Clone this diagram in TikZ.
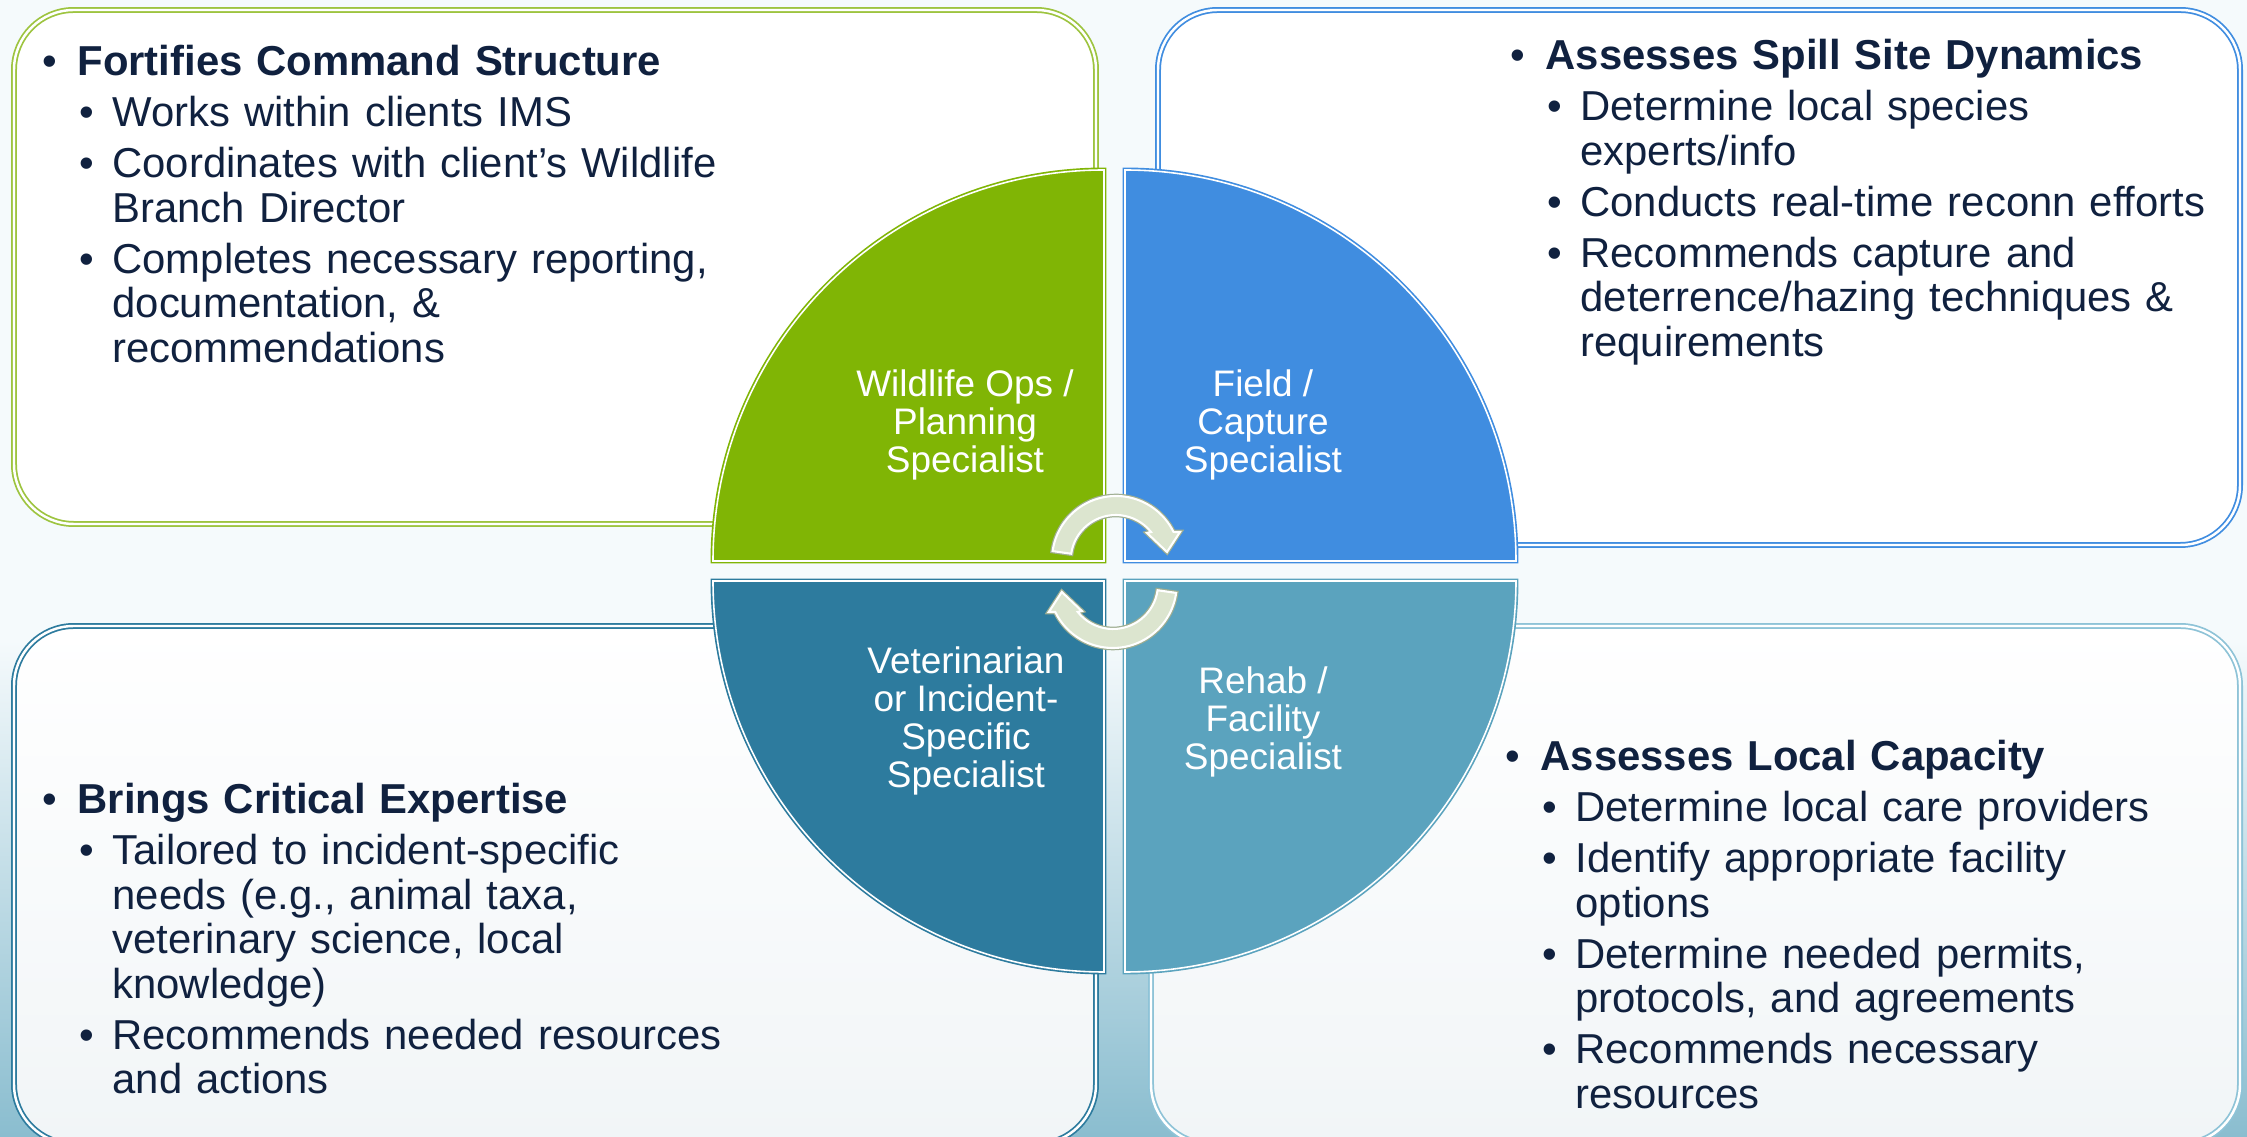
\documentclass[tikz,border=0pt]{standalone}
\usepackage{fontspec}
\setmainfont{Liberation Sans}

\definecolor{pagebg}{HTML}{F5FAFC}
\definecolor{pagelow}{HTML}{8ABDCF}
\definecolor{inktext}{HTML}{10213F}
\definecolor{opsgreen}{HTML}{80B505}
\definecolor{opsedge}{HTML}{9DC43F}
\definecolor{fieldblue}{HTML}{408DE0}
\definecolor{vetteal}{HTML}{2D7B9E}
\definecolor{rehabteal}{HTML}{5BA3BE}
\definecolor{rehabedge}{HTML}{8EC3D7}
\definecolor{arrowfill}{HTML}{DCE5CF}
\definecolor{arrowedge}{HTML}{9FAE92}
\definecolor{boxlow}{HTML}{F1F5F7}

% bullet list lines
\newcommand{\keypoint}[1]{\hangindent=9.9pt\hangafter=1\noindent
  \makebox[9.9pt][l]{\textbullet}\textbf{#1}\par}
\newcommand{\subpoint}[1]{\par\vspace{1.85pt}\hangindent=19.85pt\hangafter=1\noindent
  \hspace*{10.5pt}\makebox[9.35pt][l]{\textbullet}#1\par}

\begin{document}
\begin{tikzpicture}[x=0.01cm, y=-0.01cm,
  textbox/.style={draw=#1, line width=0.5pt, double=white, double distance=0.7pt,
                  rounded corners=17pt},
  quad/.style={fill=#1, draw=white, line width=0.45pt,
               preaction={draw=#1, line width=1.4pt}},
  cyclearrow/.style={fill=arrowfill, draw=white, line width=0.6pt,
                     preaction={draw=arrowedge, line width=1.3pt}},
  quadtext/.style={text=white, align=center, inner sep=0pt, anchor=base,
                   font=\fontsize{10.5}{10.86}\selectfont},
  listtext/.style={text=inktext, text width=240pt, inner sep=0pt, anchor=base west,
                   font=\fontsize{11.9}{12.65}\selectfont},
]
  \useasboundingbox (0,0) rectangle (2247,1137);
  \clip (0,0) rectangle (2247,1137);

  % page background
  \fill[pagebg] (0,0) rectangle (2247,1137);
  \shade[top color=pagebg, bottom color=pagelow] (0,640) rectangle (2247,1137);

  % text boxes
  \draw[textbox=opsedge, fill=white] (14,10) rectangle (1096,524);
  \draw[textbox=fieldblue, fill=white] (1158,10) rectangle (2240,545);
  \draw[textbox=vetteal, top color=white, bottom color=boxlow] (14,626) rectangle (1096,1144);
  \draw[textbox=rehabedge, top color=white, bottom color=boxlow] (1151,626) rectangle (2240,1144);

  % quarter discs
  \draw[quad=opsgreen] (1104,561) -- (713,561) arc[start angle=180, end angle=270, radius=391] -- cycle;
  \draw[quad=fieldblue] (1125,561) -- (1125,170) arc[start angle=270, end angle=360, radius=391] -- cycle;
  \draw[quad=rehabteal] (1125,581) -- (1516,581) arc[start angle=0, end angle=90, radius=391] -- cycle;
  \draw[quad=vetteal] (1104,581) -- (1104,972) arc[start angle=90, end angle=180, radius=391] -- cycle;

  % turning arrows
  \draw[cyclearrow] (1116,560) ++(188:64) arc[start angle=188, end angle=334, radius=64]
    -- (1180,532) -- (1167,552) -- (1147,533) -- (1151,532)
    arc[start angle=321.5, end angle=188, radius=45] -- cycle;
  \begin{scope}[rotate around={180:(1114.4,572)}]
    \draw[cyclearrow] (1116,560) ++(188:64) arc[start angle=188, end angle=334, radius=64]
      -- (1180,532) -- (1167,552) -- (1147,533) -- (1151,532)
      arc[start angle=321.5, end angle=188, radius=45] -- cycle;
  \end{scope}

  % roles (placed on the last baseline)
  \node[quadtext] (ops) at (965,473) {Wildlife Ops /\\Planning\\Specialist};
  \node[quadtext] (field) at (1263,473) {Field /\\Capture\\Specialist};
  \node[quadtext] (vet) at (966,788) {Veterinarian\\or Incident-\\Specific\\Specialist};
  \node[quadtext] (rehab) at (1263,770) {Rehab /\\Facility\\Specialist};

  % duties
  \node[listtext] (cmd) at (42,76) {
    \keypoint{Fortifies Command Structure}
    \subpoint{Works within clients IMS}
    \subpoint{Coordinates with client’s Wildlife\newline Branch Director}
    \subpoint{Completes necessary reporting,\newline documentation, \&\newline recommendations}
  };
  \node[listtext] (site) at (1510,70) {
    \keypoint{Assesses Spill Site Dynamics}
    \subpoint{Determine local species\newline experts/info}
    \subpoint{Conducts real-time reconn efforts}
    \subpoint{Recommends capture and\newline deterrence/hazing techniques \&\newline requirements}
  };
  \node[listtext] (expert) at (42,814) {
    \keypoint{Brings Critical Expertise}
    \subpoint{Tailored to incident-specific\newline needs (e.g., animal taxa,\newline veterinary science, local\newline knowledge)}
    \subpoint{Recommends needed resources\newline and actions}
  };
  \node[listtext] (capacity) at (1505,771) {
    \keypoint{Assesses Local Capacity}
    \subpoint{Determine local care providers}
    \subpoint{Identify appropriate facility\newline options}
    \subpoint{Determine needed permits,\newline protocols, and agreements}
    \subpoint{Recommends necessary\newline resources}
  };
\end{tikzpicture}
\end{document}
